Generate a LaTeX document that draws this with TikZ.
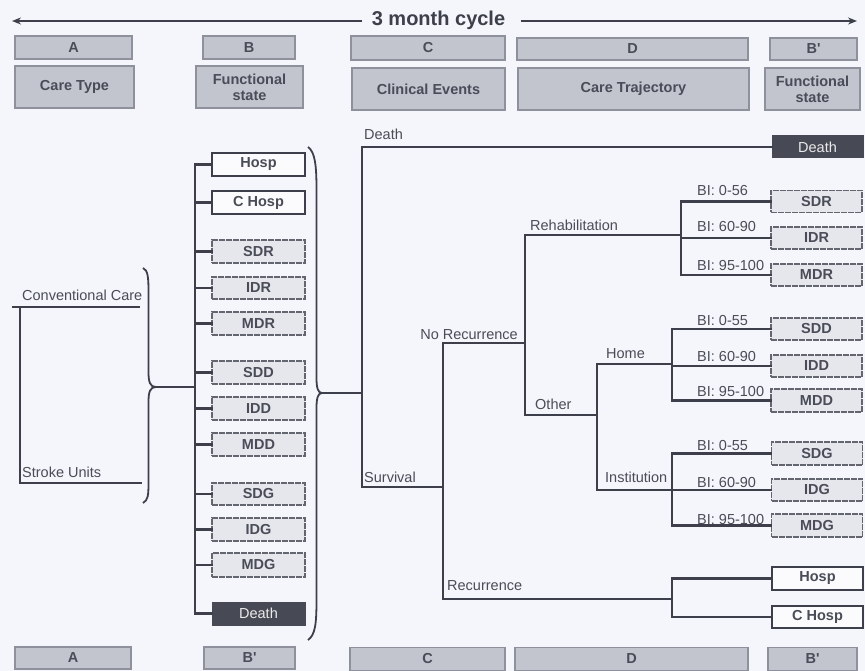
\documentclass[tikz,border=0pt]{standalone}
\usepackage{fontspec}
\setmainfont{Liberation Sans}
\usetikzlibrary{arrows.meta}
\definecolor{bgc}{HTML}{F5F6FB}
\definecolor{ink}{HTML}{3D404B}
\definecolor{txt}{HTML}{4A4D58}
\definecolor{hdrfill}{HTML}{C2C5CE}
\definecolor{hdrline}{HTML}{8E919B}
\definecolor{litefill}{HTML}{E5E7ED}
\definecolor{darkfill}{HTML}{474A55}
\begin{document}
\begin{tikzpicture}[x=1pt,y=-1pt,
  every node/.style={font=\fontsize{14.5}{16}\selectfont, text=txt},
  hdr/.style={draw=hdrline, line width=1.2pt, fill=hdrfill, inner sep=0pt, align=center,
              font=\fontsize{14.5}{16}\selectfont\bfseries},
  wbox/.style={draw=ink, line width=2.2pt, fill=white!60!bgc, inner sep=0pt,
               minimum width=91pt, minimum height=22pt, font=\fontsize{14.5}{16}\selectfont\bfseries},
  lbox/.style={draw=ink!80, line width=1.3pt, dash pattern=on 6pt off 1pt, fill=litefill, inner sep=0pt,
               minimum width=91pt, minimum height=22pt, font=\fontsize{14.5}{16}\selectfont\bfseries},
  dbox/.style={draw=darkfill, line width=1pt, fill=darkfill, inner sep=0pt,
               minimum width=91pt, minimum height=22pt, text=white!92!black},
  tree/.style={draw=ink, line width=2.8pt, line cap=rect},
  thin/.style={draw=ink, line width=1.8pt},
  lab/.style={anchor=base west, inner sep=0pt},
  cyc/.style={draw=ink, line width=1.8pt, -{Stealth[length=9pt,width=7pt]}}
]
\useasboundingbox[fill=bgc] (0,0) rectangle (865,671);

% ---- top cycle arrow
\node[font=\fontsize{20}{22}\selectfont\bfseries, text=ink] (cycle) at (438.5,20) {3 month cycle};
\coordinate (arL) at (12,21);
\coordinate (arR) at (857,21);
\draw[cyc] (cycle.west) ++(-6,1) coordinate (cyW) -- (arL);
\draw[cyc] (cycle.east) ++(12,1) coordinate (cyE) -- (arR);

% ---- header rows
\node[hdr, minimum width=117pt, minimum height=23pt] (hA) at (73.5,47.5) {A};
\node[hdr, minimum width=92pt, minimum height=23pt] (hB) at (249,47.5) {B};
\node[hdr, minimum width=154pt, minimum height=24pt] (hC) at (428,48) {C};
\node[hdr, minimum width=231pt, minimum height=22pt] (hD) at (632.5,49) {D};
\node[hdr, minimum width=87pt, minimum height=22pt] (hBp) at (813.5,49) {B\textquotesingle};

\node[hdr, minimum width=119pt, minimum height=42pt] (tA) at (74.5,87) {Care Type};
\node[hdr, minimum width=107pt, minimum height=42pt] (tB) at (249.5,87) {Functional\\state};
\node[hdr, minimum width=153pt, minimum height=42pt] (tC) at (428.5,89) {Clinical Events};
\node[hdr, minimum width=231pt, minimum height=42pt] (tD) at (633.5,89) {Care Trajectory};
\node[hdr, minimum width=95pt, minimum height=42pt] (tBp) at (812.5,89) {Functional\\state};

% ---- bottom row
\node[hdr, minimum width=116pt, minimum height=22pt] (fA) at (73,658) {A};
\node[hdr, minimum width=91pt, minimum height=22pt] (fB) at (249.5,658) {B\textquotesingle};
\node[hdr, minimum width=155pt, minimum height=23pt] (fC) at (427.5,659) {C};
\node[hdr, minimum width=233pt, minimum height=23pt] (fD) at (631.5,659) {D};
\node[hdr, minimum width=89pt, minimum height=23pt] (fBp) at (812.5,659) {B\textquotesingle};

% ---- left: care type
\coordinate (ccL) at (12,307);
\coordinate (ccC) at (20,307);
\coordinate (ccR) at (140,307);
\coordinate (suR) at (142,483);
\draw[thin] (ccL) -- (ccR);
\draw[thin] (ccC) |- (suR);
\node[lab] (ccT) at (22,300) {Conventional Care};
\node[lab] (suT) at (22,477) {Stroke Units};

% small brace
\coordinate (lbTip) at (156,387);
\draw[thin] (143,268) .. controls (148,270) and (148.5,278) .. (148.5,292)
  -- (148.5,372) .. controls (148.5,382) and (150,387) .. (lbTip)
  .. controls (150,387) and (148.5,392) .. (148.5,402)
  -- (148.5,482) .. controls (148.5,496) and (148,500) .. (143,503);

% ---- B column
\coordinate (bJ) at (195,387);
\draw[tree] (lbTip) -- (bJ);
\node[wbox, minimum width=93pt, minimum height=23pt] (bHosp) at (258.5,164.5) {Hosp};
\node[wbox, minimum width=93pt, minimum height=23pt] (bCHosp) at (258.5,202.5) {C Hosp};
\node[lbox, minimum width=93pt, minimum height=23pt] (bSDR) at (258.5,251.5) {SDR};
\node[lbox, minimum width=93pt, minimum height=22pt] (bIDR) at (258.5,288) {IDR};
\node[lbox, minimum width=93pt, minimum height=23pt] (bMDR) at (258.5,323.5) {MDR};
\node[lbox, minimum width=93pt, minimum height=23pt] (bSDD) at (258.5,372.5) {SDD};
\node[lbox, minimum width=93pt, minimum height=23pt] (bIDD) at (258.5,408.5) {IDD};
\node[lbox, minimum width=93pt, minimum height=23pt] (bMDD) at (258.5,444.5) {MDD};
\node[lbox, minimum width=93pt, minimum height=22pt] (bSDG) at (258.5,494) {SDG};
\node[lbox, minimum width=93pt, minimum height=23pt] (bIDG) at (258.5,529.5) {IDG};
\node[lbox, minimum width=93pt, minimum height=24pt] (bMDG) at (258.5,565) {MDG};
\node[dbox, minimum width=93pt, minimum height=23pt] (bDeath) at (258.5,613.5) {Death};
\foreach \b in {bHosp,bCHosp,bSDR,bIDR,bMDR,bSDD,bIDD,bMDD,bSDG,bIDG,bMDG,bDeath}
  \draw[tree] (\b.west) -| (bJ);

% big brace
\coordinate (bbTip) at (322,393);
\draw[thin] (308,147) .. controls (315,152) and (316.5,165) .. (316.5,190)
  -- (316.5,378) .. controls (316.5,388) and (318,393) .. (bbTip)
  .. controls (318,393) and (316.5,398) .. (316.5,408)
  -- (316.5,600) .. controls (316.5,625) and (315,635) .. (308,640);

% ---- clinical events tree
\coordinate (cJ) at (362,393);
\coordinate (sJ) at (443,487);
\coordinate (nrE) at (525,343);
\coordinate (reE) at (672,599);
\coordinate (rE) at (681,235);
\coordinate (oE) at (597,415);
\coordinate (hE) at (672,364);
\coordinate (iE) at (672,490);

\draw[tree] (bbTip) -- (cJ);

% right-hand boxes
\node[dbox] (rDeath) at (817.5,147) {Death};
\node[lbox] (rSDR) at (816.5,201.5) {SDR};
\node[lbox] (rIDR) at (816.5,238) {IDR};
\node[lbox] (rMDR) at (816.5,275) {MDR};
\node[lbox] (rSDD) at (816.5,329) {SDD};
\node[lbox] (rIDD) at (816.5,366) {IDD};
\node[lbox, minimum height=23pt] (rMDD) at (816.5,400.5) {MDD};
\node[lbox, minimum height=23pt] (rSDG) at (817,453.5) {SDG};
\node[lbox] (rIDG) at (817,490) {IDG};
\node[lbox, minimum height=23pt] (rMDG) at (817,525.5) {MDG};
\node[wbox, minimum height=23pt] (rHosp) at (817.5,578.5) {Hosp};
\node[wbox] (rCHosp) at (817.5,617) {C Hosp};

\draw[tree] (rDeath.west) -| (cJ);
\draw[tree] (cJ) |- (sJ);
\draw[tree] (nrE) -| (sJ);
\draw[tree] (sJ) |- (reE);
\draw[tree] (rE) -| (nrE);
\draw[tree] (nrE) |- (oE);
\draw[tree] (hE) -| (oE);
\draw[tree] (oE) |- (iE);

\draw[tree] (rSDR.west) -| (rE);
\draw[tree] (rE) |- (rIDR.west);
\draw[tree] (rMDR.west) -| (rE);
\draw[tree] (rSDD.west) -| (hE);
\draw[tree] (hE) |- (rIDD.west);
\draw[tree] (rMDD.west) -| (hE);
\draw[tree] (rSDG.west) -| (iE);
\draw[tree] (iE) |- (rIDG.west);
\draw[tree] (rMDG.west) -| (iE);
\draw[tree] (rHosp.west) -| (reE);
\draw[tree] (rCHosp.west) -| (reE);

% branch labels
\node[lab] (tDeath) at (364,140) {Death};
\node[lab] (tSurv) at (364,482) {Survival};
\node[lab, anchor=base east] (tNoRec) at (518,339) {No Recurrence};
\node[lab] (tRehab) at (530,231) {Rehabilitation};
\node[lab] (tOther) at (535,409) {Other};
\node[lab] (tHome) at (606,358) {Home};
\node[lab] (tInst) at (605,482) {Institution};
\node[lab] (tRec) at (447,590) {Recurrence};

\node[lab] (bi1) at (697,196) {BI: 0-56};
\node[lab] (bi2) at (697,232) {BI: 60-90};
\node[lab] (bi3) at (697,270) {BI: 95-100};
\node[lab] (bi4) at (697,325) {BI: 0-55};
\node[lab] (bi5) at (697,361) {BI: 60-90};
\node[lab] (bi6) at (697,396) {BI: 95-100};
\node[lab] (bi7) at (697,450) {BI: 0-55};
\node[lab] (bi8) at (697,487) {BI: 60-90};
\node[lab] (bi9) at (697,524) {BI: 95-100};
\end{tikzpicture}
\end{document}
